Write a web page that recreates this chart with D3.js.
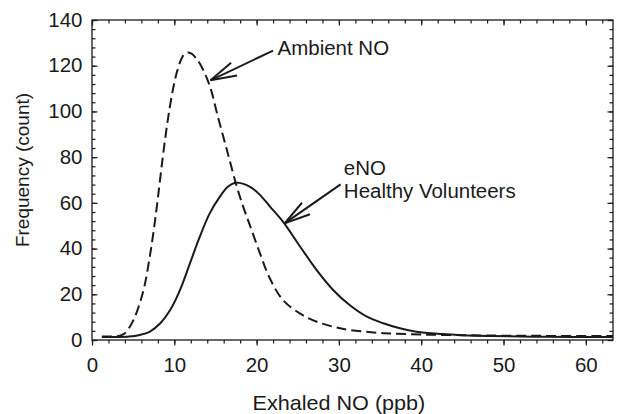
<!DOCTYPE html>
<html>
<head>
<meta charset="utf-8">
<script src="https://cdn.jsdelivr.net/npm/d3@7/dist/d3.min.js"></script>
<style>
  html, body { margin: 0; padding: 0; background: #fff; }
  svg { display: block; }
  text { font-family: "Liberation Sans", Arial, Helvetica, sans-serif; fill: #1a1a1a; }
</style>
</head>
<body>
<svg id="chart" width="632" height="414"></svg>
<script>
// ---- data ----
const ambientX = [1.2, 2, 3, 3.5, 4, 4.6, 5.2, 5.8, 6.4, 7.0, 7.5, 8.0, 8.6, 9.2, 9.8, 10.3, 10.8, 11.2, 11.7, 12.2, 12.7, 13.1, 13.9, 14.5, 15.2, 16.4, 17.6, 18.4, 19.2, 20.4, 21.6, 23.2, 25.3, 27.3, 29.3, 31.3, 35.4, 40, 45, 50, 55, 63.3];
const ambientY = [1.5, 1.5, 1.6, 2, 3, 5.8, 10, 16, 24, 36, 48, 62, 80, 96, 109, 117, 122.5, 125, 125.8, 125, 123, 121, 115, 109, 99, 83, 67, 58, 50, 38, 27, 17.5, 11.5, 8, 5.8, 4.4, 3, 2.4, 2.1, 1.9, 1.8, 1.7];

const enoX = [1.2, 3, 4.5, 5.8, 7.0, 8.3, 9.5, 10.7, 11.9, 13.1, 14.3, 15.5, 16.5, 17.4, 18.3, 19.3, 20.4, 21.6, 23.2, 25.3, 27.3, 29.3, 31.3, 33.4, 35.4, 37.4, 39.4, 42.5, 45, 48.3, 55, 63.3];
const enoY = [1.3, 1.3, 1.5, 2.2, 3.6, 7.3, 13.1, 21.9, 33.5, 45.2, 55.4, 62.5, 67, 68.8, 68.4, 66.8, 63.5, 58.5, 51.8, 40.8, 30.6, 21.9, 15.3, 10.2, 7.3, 5.1, 3.6, 2.6, 2.1, 1.75, 1.4, 1.3];

const xTickLabels = [0, 10, 20, 30, 40, 50, 60];
const yTickLabels = [0, 20, 40, 60, 80, 100, 120, 140];
const xMinorTicks = d3.range(0, 63, 2);
const yMinorTicks = d3.range(0, 141, 4);

const xTitle = "Exhaled NO (ppb)";
const yTitle = "Frequency (count)";
const ambientLabel = ["Ambient NO"];
const enoLabel = ["eNO", "Healthy Volunteers"];

// ---- layout ----
const svg = d3.select("#chart");
const mLeft = 92, mRight = 613, mTop = 20, mBottom = 340;
const x = d3.scaleLinear().domain([0, 63.3]).range([mLeft, mRight]);
const y = d3.scaleLinear().domain([0, 140]).range([mBottom, mTop]);

const ink = "#1a1a1a";
const stretch = 1.05; // reference text is slightly wide

// frame
svg.append("rect")
  .attr("x", mLeft).attr("y", mTop)
  .attr("width", mRight - mLeft).attr("height", mBottom - mTop)
  .attr("fill", "none").attr("stroke", ink).attr("stroke-width", 1.3);

function styleAxis(g) {
  g.select(".domain").remove();
  g.selectAll(".tick line").attr("stroke", ink).attr("stroke-width", 1.2);
  g.selectAll(".tick text").attr("fill", ink).style("font-size", "19.5px")
    .style("font-family", '"Liberation Sans", Arial, sans-serif');
}

// bottom axis: outward ticks
svg.append("g").attr("transform", `translate(0,${mBottom})`)
  .call(d3.axisBottom(x).tickValues(xMinorTicks).tickSize(3.5).tickFormat(""))
  .call(styleAxis);
const xAx = svg.append("g").attr("transform", `translate(0,${mBottom})`)
  .call(d3.axisBottom(x).tickValues(xTickLabels).tickSize(5.5).tickPadding(12.5).tickFormat(d3.format("d")))
  .call(styleAxis);
xAx.selectAll(".tick text").attr("transform", `scale(${stretch},1)`);

// top axis: inward ticks
svg.append("g").attr("transform", `translate(0,${mTop})`)
  .call(d3.axisTop(x).tickValues(xMinorTicks).tickSize(-3.5).tickFormat(""))
  .call(styleAxis);
svg.append("g").attr("transform", `translate(0,${mTop})`)
  .call(d3.axisTop(x).tickValues(xTickLabels).tickSize(-5.5).tickFormat(""))
  .call(styleAxis);

// left axis: inward ticks
svg.append("g").attr("transform", `translate(${mLeft},0)`)
  .call(d3.axisLeft(y).tickValues(yMinorTicks).tickSize(-3.5).tickFormat(""))
  .call(styleAxis);
const yAx = svg.append("g").attr("transform", `translate(${mLeft},0)`)
  .call(d3.axisLeft(y).tickValues(yTickLabels).tickSize(-5.5).tickPadding(0).tickFormat(d3.format("d")))
  .call(styleAxis);
yAx.selectAll(".tick text").attr("x", 0)
  .attr("transform", `translate(-9.5,0) scale(${stretch},1)`);

// right axis: inward ticks
svg.append("g").attr("transform", `translate(${mRight},0)`)
  .call(d3.axisRight(y).tickValues(yMinorTicks).tickSize(-3.5).tickFormat(""))
  .call(styleAxis);
svg.append("g").attr("transform", `translate(${mRight},0)`)
  .call(d3.axisRight(y).tickValues(yTickLabels).tickSize(-5.5).tickFormat(""))
  .call(styleAxis);

// axis titles
svg.append("text")
  .attr("transform", `translate(${x(30)},410) scale(1.08,1)`)
  .attr("text-anchor", "middle").style("font-size", "20px")
  .text(xTitle);
svg.append("text")
  .attr("transform", `translate(29,170) rotate(-90)`)
  .attr("text-anchor", "middle").style("font-size", "19px")
  .text(yTitle);

// curves
const line = d3.line().x(d => x(d[0])).y(d => y(d[1])).curve(d3.curveCatmullRom.alpha(0.5));
const ambient = ambientX.map((v, i) => [v, ambientY[i]]);
const eno = enoX.map((v, i) => [v, enoY[i]]);

svg.append("path").datum(ambient)
  .attr("d", line).attr("fill", "none")
  .attr("stroke", ink).attr("stroke-width", 2)
  .attr("stroke-dasharray", "10,5");
svg.append("path").datum(eno)
  .attr("d", line).attr("fill", "none")
  .attr("stroke", ink).attr("stroke-width", 2);

// annotation arrows (tip and tail in data units)
function arrow(tip, tail) {
  const tx = x(tip[0]), ty = y(tip[1]);
  const sx = x(tail[0]), sy = y(tail[1]);
  const ang = Math.atan2(sy - ty, sx - tx);
  const L = 27, spread = 15 * Math.PI / 180;
  const g = svg.append("g").attr("stroke", ink).attr("stroke-width", 2).attr("fill", "none");
  g.append("line").attr("x1", tx).attr("y1", ty).attr("x2", sx).attr("y2", sy);
  [ang - spread, ang + spread].forEach(a => {
    g.append("line").attr("x1", tx).attr("y1", ty)
      .attr("x2", tx + L * Math.cos(a)).attr("y2", ty + L * Math.sin(a));
  });
}
arrow([14.4, 113.6], [22.0, 126.6]);
arrow([23.4, 51.0], [30.2, 68.1]);

// annotation texts
svg.append("text")
  .attr("transform", `translate(${x(22.55)},${y(124.5)}) scale(${stretch},1)`)
  .style("font-size", "19.5px").text(ambientLabel[0]);
const enoText = svg.append("text")
  .attr("transform", `translate(${x(30.6)},${y(72.2)}) scale(${stretch},1)`)
  .style("font-size", "19.5px");
enoLabel.forEach((t, i) => {
  enoText.append("tspan").attr("x", 0).attr("dy", i === 0 ? 0 : 23).text(t);
});
</script>
</body>
</html>
